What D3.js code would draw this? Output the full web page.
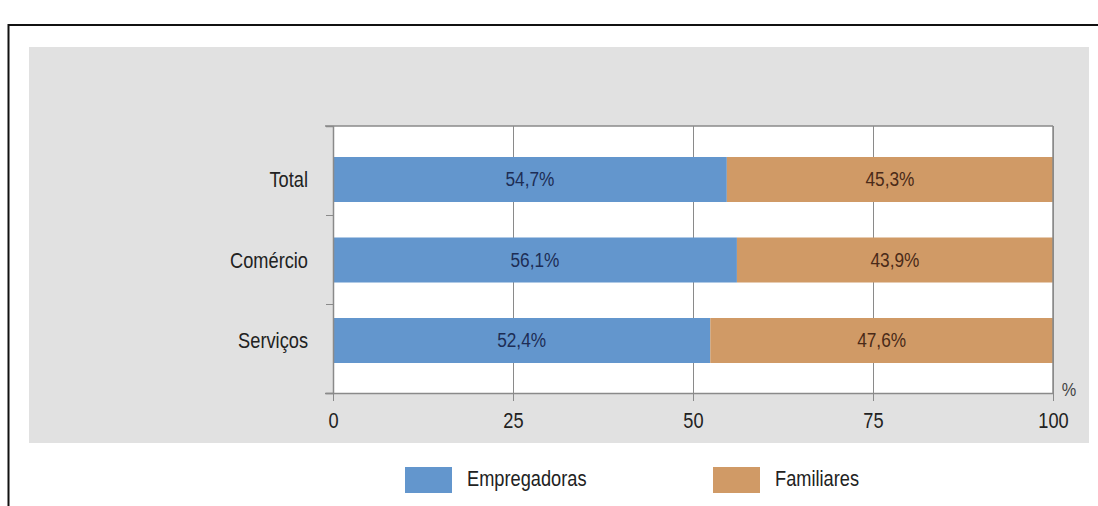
<!DOCTYPE html>
<html>
<head>
<meta charset="utf-8">
<script src="https://cdn.jsdelivr.net/npm/d3@7"></script>
<style>
  html, body { margin: 0; padding: 0; background: #ffffff; }
  svg { display: block; font-family: "Liberation Sans", Arial, sans-serif; }
</style>
</head>
<body>
<svg id="chart" width="1098" height="506"></svg>
<script>
// ---- data ----
const categories = ["Total", "Comércio", "Serviços"];
const empregadoras = [54.7, 56.1, 52.4];
const familiares = [45.3, 43.9, 47.6];
const seriesNames = ["Empregadoras", "Familiares"];
const xTicks = [0, 25, 50, 75, 100];
const axisUnit = "%";

(function () {
// ---- style ----
const colors = ["#6396cd", "#d09a66"];
const labelColors = ["#1d2d55", "#4a2a18"];
const stretchY = 1.12;

// stretch text vertically around its anchor point
function stretch(sel) {
  sel.each(function () {
    const t = d3.select(this);
    const tx = +(t.attr("x") || 0), ty = +(t.attr("y") || 0);
    t.attr("x", 0).attr("y", 0)
     .attr("transform", `translate(${tx},${ty}) scale(0.96,${stretchY})`);
  });
}

const svg = d3.select("#chart");

// outer frame
svg.append("rect").attr("x", 0).attr("y", 0).attr("width", 1098).attr("height", 506).attr("fill", "#fff");
svg.append("line").attr("x1", 8.5).attr("x2", 1098).attr("y1", 25).attr("y2", 25)
  .attr("stroke", "#111").attr("stroke-width", 2);
svg.append("line").attr("x1", 8.5).attr("x2", 8.5).attr("y1", 24).attr("y2", 506)
  .attr("stroke", "#111").attr("stroke-width", 2);

// gray panel
svg.append("rect").attr("x", 29).attr("y", 47).attr("width", 1060).attr("height", 396).attr("fill", "#e1e1e1");

const pL = 333, pR = 1053, pT = 126, pB = 393;
const x = d3.scaleLinear().domain([0, 100]).range([pL, pR]);
const yBand = d3.scaleBand().domain(categories).range([pT, pB]).padding(0);
const yCenter = d3.scalePoint().domain(categories).range([179.5, 340.5]);
const barH = 45;

// plot background
svg.append("rect").attr("x", pL).attr("y", pT).attr("width", pR - pL).attr("height", pB - pT).attr("fill", "#fff");

// vertical grid lines
const grid = svg.append("g").attr("transform", `translate(0,${pB})`)
  .call(d3.axisBottom(x).tickValues(xTicks).tickSize(-(pB - pT)).tickFormat(""));
grid.select(".domain").remove();
grid.selectAll("line").attr("stroke", "#8a8a8a").attr("stroke-width", 1);

// bars
const stacked = categories.map((c, i) => ({ cat: c, vals: [empregadoras[i], familiares[i]] }));
const barG = svg.append("g");
stacked.forEach(d => {
  let acc = 0;
  d.vals.forEach((v, j) => {
    const x0 = acc, x1 = acc + v;
    barG.append("rect")
      .attr("x", x(x0)).attr("width", x(x1) - x(x0))
      .attr("y", yCenter(d.cat) - barH / 2).attr("height", barH)
      .attr("fill", colors[j]);
    barG.append("text")
      .attr("x", x((x0 + x1) / 2)).attr("y", yCenter(d.cat))
      .attr("text-anchor", "middle").attr("dominant-baseline", "central")
      .attr("font-size", 18).attr("fill", labelColors[j])
      .text(d3.format(".1f")(v).replace(".", ",") + "%");
    acc = x1;
  });
});
stretch(barG.selectAll("text"));

// plot frame: top and right lines
svg.append("line").attr("x1", pL - 8).attr("x2", pR).attr("y1", pT).attr("y2", pT)
  .attr("stroke", "#8a8a8a").attr("stroke-width", 1.5);
svg.append("line").attr("x1", pR).attr("x2", pR).attr("y1", pT).attr("y2", pB)
  .attr("stroke", "#8a8a8a").attr("stroke-width", 1.5);

// y axis with ticks at band boundaries
const yBounds = categories.map(c => yBand(c)).concat([pB]);
const yAxisScale = d3.scaleLinear().domain([pT, pB]).range([pT, pB]);
const yAx = svg.append("g").attr("transform", `translate(${pL},0)`)
  .call(d3.axisLeft(yAxisScale).tickValues(yBounds).tickSize(7).tickFormat(""));
yAx.selectAll("line").attr("stroke", "#8a8a8a");
yAx.select(".domain").attr("stroke", "#8a8a8a").attr("stroke-width", 1.5);

// category labels
const catLabels = svg.append("g").selectAll("text").data(categories).join("text")
  .attr("x", 308).attr("y", d => yCenter(d))
  .attr("text-anchor", "end").attr("dominant-baseline", "central")
  .attr("font-size", 19).attr("fill", "#222")
  .text(d => d);
stretch(catLabels);

// x axis
const xAx = svg.append("g").attr("transform", `translate(0,${pB})`)
  .call(d3.axisBottom(x).tickValues(xTicks).tickSize(8).tickPadding(12).tickSizeOuter(0));
xAx.select(".domain").attr("stroke", "#8a8a8a").attr("stroke-width", 1.5)
  .attr("d", `M${pL - 8},0.5H${pR}`);
xAx.selectAll("line").attr("stroke", "#8a8a8a");
xAx.selectAll("text").attr("font-size", 19).attr("fill", "#222")
  .attr("font-family", "Liberation Sans, Arial, sans-serif");
stretch(xAx.selectAll("text"));

const unit = svg.append("text").attr("x", 1069).attr("y", 390)
  .attr("text-anchor", "middle").attr("dominant-baseline", "central")
  .attr("font-size", 17).attr("fill", "#444").text(axisUnit);
stretch(unit);

// legend
const legendX = [405, 713];
const leg = svg.append("g");
seriesNames.forEach((n, i) => {
  leg.append("rect").attr("x", legendX[i]).attr("y", 467).attr("width", 47).attr("height", 26)
    .attr("fill", colors[i]);
  leg.append("text").attr("x", legendX[i] + 62).attr("y", 478)
    .attr("dominant-baseline", "central").attr("font-size", 19).attr("fill", "#222")
    .text(n);
});
stretch(leg.selectAll("text"));
})();
</script>
</body>
</html>
